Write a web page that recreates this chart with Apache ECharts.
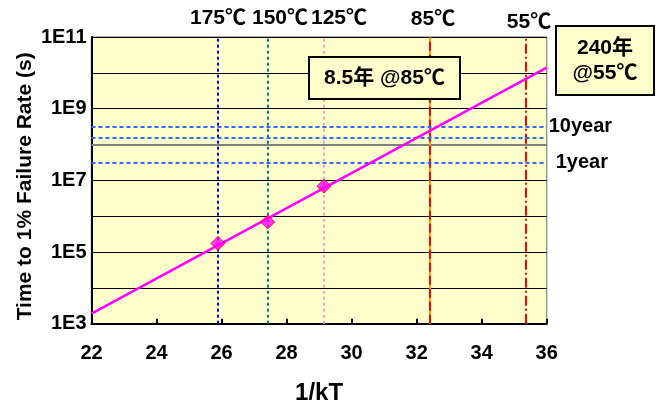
<!DOCTYPE html>
<html>
<head>
<meta charset="utf-8">
<script src="https://cdn.jsdelivr.net/npm/echarts@6/dist/echarts.min.js"></script>
<style>
  html, body { margin: 0; padding: 0; background: #fff; }
  #chart { width: 664px; height: 403px; }
</style>
</head>
<body>
<div id="chart"></div>
<script>
// Arrhenius lifetime plot: time to 1% failure vs 1/kT (log scale)
const FONT = '"Liberation Sans", Arial, "Noto Sans CJK JP", sans-serif';

// x axis (1/kT, eV^-1)
const xMin = 22, xMax = 36, xStep = 2;
// y axis range (seconds, 1E3 .. 1E11), labelled every second decade
const yMin = 1e3, yMax = 1e11;

// temperature markers: label and 1/kT position
const tempLabels = ['175℃', '150℃', '125℃', '85℃', '55℃'];
const tempInvKT = [25.89, 27.42, 29.15, 32.40, 35.36];

// fitted lifetime line (end points)
const fitX = [22, 36];
const fitY = [1.9e3, 1.4e10];

// measured stress points
const measX = [25.89, 27.42, 29.15];
const measY = [1.74e5, 6.9e5, 6.9e6];

// reference lifetimes in seconds
const lifeLabels = ['10year', '', '1year'];
const lifeSeconds = [3.16e8, 1.58e8, 3.16e7];

// callouts
const callout85 = '8.5年 @85℃';
const callout55 = ['240年', '@55℃'];

const chart = echarts.init(document.getElementById('chart'));

const vStyles = [
  { color: '#0000FF', width: 2, type: [3, 3] },
  { color: '#008080', width: 2, type: [3, 3] },
  { color: '#FF99CC', width: 2, type: [3, 3] },
  { color: '#FF0000', width: 2, type: [9, 4] },
  { color: '#FF0000', width: 2, type: [10, 3, 2, 3] }
];

const vLines = [];
tempInvKT.forEach((x, i) => {
  if (i === 3) {
    vLines.push({ xAxis: x, lineStyle: { color: '#FF9900', width: 2, type: 'solid' } });
  }
  vLines.push({ xAxis: x, lineStyle: vStyles[i] });
});

const hLines = lifeSeconds.map((v, i) => ({
  yAxis: v,
  lineStyle: { color: '#3366FF', width: 2, type: [4, 3] },
  label: {
    show: lifeLabels[i] !== '',
    formatter: lifeLabels[i],
    position: 'end',
    distance: i === 0 ? 2 : 9,
    color: '#000',
    fontFamily: FONT,
    fontWeight: 'bold',
    fontSize: 20
  }
}));

const topLabelX = [218, 280, 339, 433, 529];
const topLabelY = [18, 18, 18, 19, 22];

const graphics = tempLabels.map((t, i) => ({
  type: 'text',
  x: topLabelX[i],
  y: topLabelY[i],
  style: {
    text: t,
    fill: '#000',
    font: 'bold 21px ' + FONT,
    align: 'center',
    verticalAlign: 'middle'
  },
  z: 20
}));

// callout box inside the plot
graphics.push({
  type: 'rect',
  shape: { x: 309, y: 57, width: 151, height: 42 },
  style: { fill: '#FFFFCC', stroke: '#000', lineWidth: 2 },
  z: 20
});
graphics.push({
  type: 'text',
  x: 384.5, y: 78,
  style: {
    text: callout85,
    fill: '#000',
    font: 'bold 21px ' + FONT,
    align: 'center',
    verticalAlign: 'middle'
  },
  z: 21
});

// callout box right of the plot
graphics.push({
  type: 'rect',
  shape: { x: 556, y: 26, width: 98, height: 69 },
  style: { fill: '#FFFFCC', stroke: '#000', lineWidth: 2 },
  z: 20
});
graphics.push({
  type: 'text',
  x: 605, y: 60.5,
  style: {
    text: callout55.join('\n'),
    fill: '#000',
    font: 'bold 21px ' + FONT,
    lineHeight: 25,
    align: 'center',
    verticalAlign: 'middle'
  },
  z: 21
});

chart.setOption({
  animation: false,
  backgroundColor: '#fff',
  grid: {
    left: 91.5, right: 117.3, top: 37, bottom: 79.3,
    outerBoundsMode: 'none',
    containLabel: false,
    show: true,
    backgroundColor: '#FFFFCC',
    borderColor: '#999999',
    borderWidth: 1.5
  },
  xAxis: {
    type: 'value',
    min: xMin, max: xMax, interval: xStep,
    name: '1/kT',
    nameLocation: 'middle',
    nameGap: 58,
    nameMoveOverlap: false,
    nameTextStyle: { fontFamily: FONT, fontWeight: 'bold', fontSize: 24, color: '#000' },
    axisLine: { lineStyle: { color: '#000', width: 2 } },
    axisTick: { inside: true, length: 5, lineStyle: { color: '#000', width: 2 } },
    axisLabel: { margin: 20, fontFamily: FONT, fontWeight: 'bold', fontSize: 20, color: '#000' },
    splitLine: { show: false }
  },
  yAxis: {
    type: 'log',
    logBase: 10,
    min: yMin, max: yMax,
    interval: 1,
    name: 'Time to 1% Failure Rate (s)',
    nameLocation: 'middle',
    nameGap: 56,
    nameMoveOverlap: false,
    nameTextStyle: {
      fontFamily: FONT, fontWeight: 'bold', fontSize: 21, color: '#000',
      padding: [0, 12, 0, 0]
    },
    axisLine: { lineStyle: { color: '#000', width: 2 } },
    axisTick: { show: false },
    axisLabel: {
      margin: 5,
      fontFamily: FONT, fontWeight: 'bold', fontSize: 20, color: '#000',
      formatter: v => {
        const e = Math.round(Math.log10(v));
        return e % 2 === 1 ? '1E' + e : '';
      }
    },
    splitLine: { show: true, lineStyle: { color: '#000', width: 1 } }
  },
  graphic: graphics,
  series: [
    {
      type: 'line',
      data: fitX.map((x, i) => [x, fitY[i]]),
      showSymbol: false,
      lineStyle: { color: '#FF00FF', width: 2.5 },
      z: 5,
      markLine: {
        silent: true,
        symbol: 'none',
        label: { show: false },
        data: [
          { yAxis: 1e8, lineStyle: { color: '#808080', width: 2, type: 'solid' } }
        ].concat(vLines).concat(hLines)
      }
    },
    {
      type: 'scatter',
      data: measX.map((x, i) => [x, measY[i]]),
      symbol: 'diamond',
      symbolSize: 14,
      itemStyle: { color: '#FF00FF', borderColor: '#FF0000', borderWidth: 1 },
      z: 6
    }
  ]
});
</script>
</body>
</html>
